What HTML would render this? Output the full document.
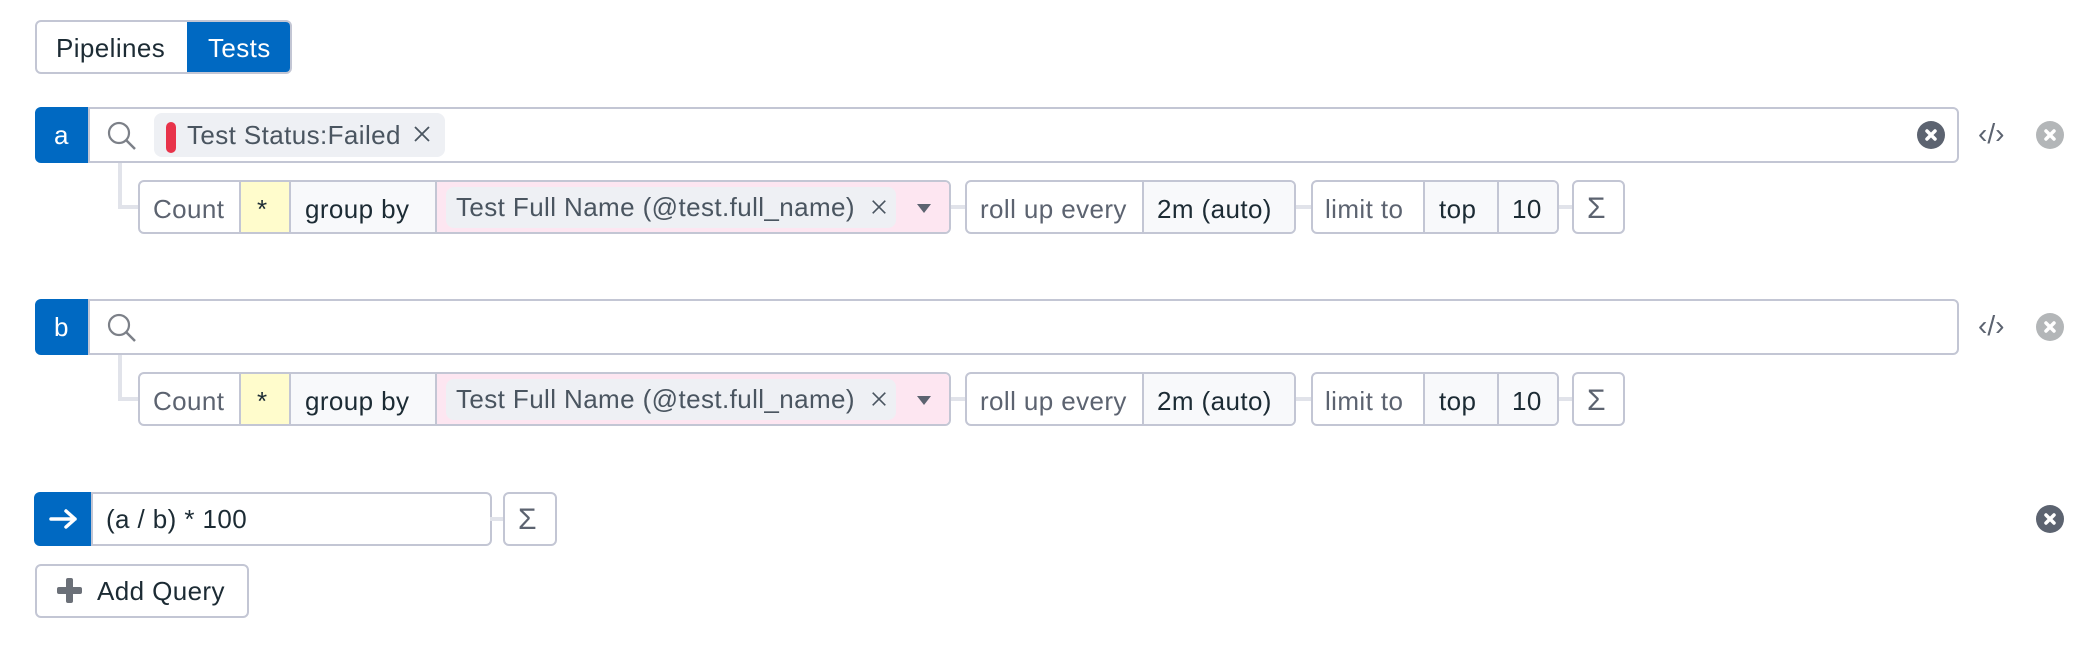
<!DOCTYPE html>
<html><head><meta charset="utf-8"><style>
*{box-sizing:border-box;margin:0;padding:0}
body{width:2094px;height:648px;background:#fff;position:relative;font-family:"Liberation Sans",sans-serif;font-size:26px;letter-spacing:0.4px;color:#1c2b34;overflow:hidden}
.a{position:absolute}
.box{position:absolute;border:2px solid #c3c6d4;border-radius:6px;background:#fff}
.t{position:absolute;white-space:nowrap;line-height:1}
.g{color:#5c6370}
.sec{position:absolute;top:0;bottom:0;border-left:2px solid #c3c6d4}
.line{position:absolute;background:#e1e3ea}
.circ{position:absolute;width:28px;height:28px;border-radius:50%}
</style></head><body>

<svg width="0" height="0" style="position:absolute">
<defs>
<symbol id="x" viewBox="0 0 20 20"><path d="M3 3L17 17M17 3L3 17" stroke="#4a5560" stroke-width="1.8" fill="none"/></symbol>
<symbol id="cx" viewBox="0 0 28 28"><path d="M10 10L18 18M18 10L10 18" stroke="#fff" stroke-width="3.5" stroke-linecap="round" fill="none"/></symbol>
</defs></svg>

<!-- toggle -->
<div class="box" style="left:35px;top:20px;width:257px;height:54px;overflow:hidden">
  <div class="a" style="left:150px;top:0;width:110px;height:54px;background:#0069c2"></div>
  <div class="t" style="left:19px;top:13px">Pipelines</div>
  <div class="t" style="left:171px;top:13px;color:#fff">Tests</div>
</div>

<!-- a -->
<div class="line" style="left:118px;top:162px;width:4px;height:47px"></div>
<div class="line" style="left:118px;top:205px;width:22px;height:4px"></div>
<div class="a" style="left:35px;top:107px;width:56px;height:56px;background:#0069c2;border-radius:6px 0 0 6px"></div>
<div class="t" style="left:54px;top:122px;color:#fff">a</div>
<div class="box" style="left:88px;top:107px;width:1871px;height:56px;border-radius:0 6px 6px 0"></div>
<svg class="a" style="left:106px;top:120px" width="34" height="32"><circle cx="13" cy="13" r="10" fill="none" stroke="#7c8088" stroke-width="2.2"/><line x1="20" y1="20" x2="29" y2="29" stroke="#7c8088" stroke-width="2.5"/></svg>
<div class="a" style="left:154px;top:113px;width:291px;height:44px;background:#eef0f4;border-radius:8px"></div>
<div class="a" style="left:166px;top:122px;width:10px;height:31px;background:#e8334a;border-radius:5px"></div>
<div class="t" style="left:187px;top:122px;color:#4a5560">Test Status:Failed</div>
<svg class="a" style="left:412px;top:124px" width="20" height="20"><use href="#x"/></svg>
<svg class="circ" style="left:1917px;top:121px;background:#5c6370"><use href="#cx"/></svg>
<div class="t" style="left:1978px;top:120px;color:#5c6370;font-size:28px;letter-spacing:0">‹/›</div>
<svg class="circ" style="left:2036px;top:121px;background:#b3b6b8"><use href="#cx"/></svg>

<div class="line" style="left:948px;top:205px;width:20px;height:4px"></div>
<div class="line" style="left:1294px;top:205px;width:20px;height:4px"></div>
<div class="line" style="left:1557px;top:205px;width:18px;height:4px"></div>
<div class="box" style="left:138px;top:180px;width:813px;height:54px;overflow:hidden">
  <div class="a" style="left:99px;top:0;width:50px;height:54px;background:#fffccc"></div>
  <div class="a" style="left:149px;top:0;width:146px;height:54px;background:#f8f9fb"></div>
  <div class="a" style="left:295px;top:0;width:520px;height:54px;background:#fde6f1"></div>
  <div class="sec" style="left:99px"></div><div class="sec" style="left:149px"></div><div class="sec" style="left:295px"></div>
  <div class="a" style="left:306px;top:5px;width:450px;height:41px;background:#eef0f4;border-radius:8px"></div>
  <div class="t g" style="left:13px;top:14px">Count</div>
  <div class="t" style="left:117px;top:14px">*</div>
  <div class="t" style="left:165px;top:14px">group by</div>
  <div class="t" style="left:316px;top:12px;color:#4a5560">Test Full Name (@test.full_name)</div>
  <svg class="a" style="left:730px;top:16px" width="18" height="18"><use href="#x"/></svg>
  <svg class="a" style="left:777px;top:22px" width="14" height="10"><path d="M0 0H14L7 9Z" fill="#5c6370"/></svg>
</div>
<div class="box" style="left:965px;top:180px;width:331px;height:54px;overflow:hidden">
  <div class="a" style="left:175px;top:0;width:160px;height:54px;background:#f8f9fb"></div>
  <div class="sec" style="left:175px"></div>
  <div class="t g" style="left:13px;top:14px">roll up every</div>
  <div class="t" style="left:190px;top:14px">2m (auto)</div>
</div>
<div class="box" style="left:1311px;top:180px;width:248px;height:54px;overflow:hidden">
  <div class="a" style="left:110px;top:0;width:140px;height:54px;background:#f8f9fb"></div>
  <div class="sec" style="left:110px"></div><div class="sec" style="left:184px"></div>
  <div class="t g" style="left:12px;top:14px">limit to</div>
  <div class="t" style="left:126px;top:14px">top</div>
  <div class="t" style="left:199px;top:14px">10</div>
</div>
<div class="box" style="left:1572px;top:180px;width:53px;height:54px"><div class="t g" style="left:13px;top:12px;font-size:30px">Σ</div></div>

<!-- b -->
<div class="line" style="left:118px;top:354px;width:4px;height:47px"></div>
<div class="line" style="left:118px;top:397px;width:22px;height:4px"></div>
<div class="a" style="left:35px;top:299px;width:56px;height:56px;background:#0069c2;border-radius:6px 0 0 6px"></div>
<div class="t" style="left:54px;top:314px;color:#fff">b</div>
<div class="box" style="left:88px;top:299px;width:1871px;height:56px;border-radius:0 6px 6px 0"></div>
<svg class="a" style="left:106px;top:312px" width="34" height="32"><circle cx="13" cy="13" r="10" fill="none" stroke="#7c8088" stroke-width="2.2"/><line x1="20" y1="20" x2="29" y2="29" stroke="#7c8088" stroke-width="2.5"/></svg>
<div class="t" style="left:1978px;top:312px;color:#5c6370;font-size:28px;letter-spacing:0">‹/›</div>
<svg class="circ" style="left:2036px;top:313px;background:#b3b6b8"><use href="#cx"/></svg>

<div class="line" style="left:948px;top:397px;width:20px;height:4px"></div>
<div class="line" style="left:1294px;top:397px;width:20px;height:4px"></div>
<div class="line" style="left:1557px;top:397px;width:18px;height:4px"></div>
<div class="box" style="left:138px;top:372px;width:813px;height:54px;overflow:hidden">
  <div class="a" style="left:99px;top:0;width:50px;height:54px;background:#fffccc"></div>
  <div class="a" style="left:149px;top:0;width:146px;height:54px;background:#f8f9fb"></div>
  <div class="a" style="left:295px;top:0;width:520px;height:54px;background:#fde6f1"></div>
  <div class="sec" style="left:99px"></div><div class="sec" style="left:149px"></div><div class="sec" style="left:295px"></div>
  <div class="a" style="left:306px;top:5px;width:450px;height:41px;background:#eef0f4;border-radius:8px"></div>
  <div class="t g" style="left:13px;top:14px">Count</div>
  <div class="t" style="left:117px;top:14px">*</div>
  <div class="t" style="left:165px;top:14px">group by</div>
  <div class="t" style="left:316px;top:12px;color:#4a5560">Test Full Name (@test.full_name)</div>
  <svg class="a" style="left:730px;top:16px" width="18" height="18"><use href="#x"/></svg>
  <svg class="a" style="left:777px;top:22px" width="14" height="10"><path d="M0 0H14L7 9Z" fill="#5c6370"/></svg>
</div>
<div class="box" style="left:965px;top:372px;width:331px;height:54px;overflow:hidden">
  <div class="a" style="left:175px;top:0;width:160px;height:54px;background:#f8f9fb"></div>
  <div class="sec" style="left:175px"></div>
  <div class="t g" style="left:13px;top:14px">roll up every</div>
  <div class="t" style="left:190px;top:14px">2m (auto)</div>
</div>
<div class="box" style="left:1311px;top:372px;width:248px;height:54px;overflow:hidden">
  <div class="a" style="left:110px;top:0;width:140px;height:54px;background:#f8f9fb"></div>
  <div class="sec" style="left:110px"></div><div class="sec" style="left:184px"></div>
  <div class="t g" style="left:12px;top:14px">limit to</div>
  <div class="t" style="left:126px;top:14px">top</div>
  <div class="t" style="left:199px;top:14px">10</div>
</div>
<div class="box" style="left:1572px;top:372px;width:53px;height:54px"><div class="t g" style="left:13px;top:12px;font-size:30px">Σ</div></div>

<!-- formula -->
<div class="a" style="left:34px;top:492px;width:60px;height:54px;background:#0069c2;border-radius:6px 0 0 6px"></div>
<svg class="a" style="left:48px;top:507px" width="32" height="24"><path d="M3 12H27M18 4L27 12L18 20" stroke="#fff" stroke-width="3.5" fill="none" stroke-linecap="round" stroke-linejoin="round"/></svg>
<div class="box" style="left:91px;top:492px;width:401px;height:54px;border-radius:0 6px 6px 0"></div>
<div class="t" style="left:106px;top:506px">(a / b) * 100</div>
<div class="line" style="left:490px;top:517px;width:15px;height:4px"></div>
<div class="box" style="left:503px;top:492px;width:54px;height:54px"><div class="t g" style="left:13px;top:11px;font-size:30px">Σ</div></div>
<svg class="circ" style="left:2036px;top:505px;background:#5c6370"><use href="#cx"/></svg>

<div class="box" style="left:35px;top:564px;width:214px;height:54px"></div>
<div class="a" style="left:57px;top:587px;width:25px;height:7px;background:#6b7078;border-radius:2px"></div>
<div class="a" style="left:66px;top:578px;width:7px;height:25px;background:#6b7078;border-radius:2px"></div>
<div class="t" style="left:97px;top:578px">Add Query</div>

</body></html>
